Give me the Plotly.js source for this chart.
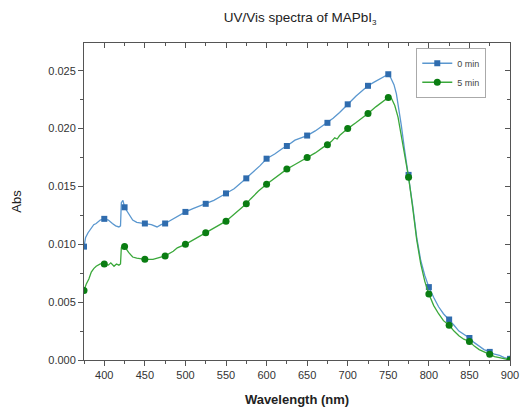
<!DOCTYPE html>
<html>
<head>
<meta charset="utf-8">
<script src="https://cdn.plot.ly/plotly-3.0.1.min.js"></script>
<style>html,body{margin:0;padding:0;background:#fff;}#chart{width:522px;height:407px;}</style>
</head>
<body>
<div id="chart"></div>
<script>
// Wavelength (nm) and absorbance
var wl0 = [375,377,380,383,387,390,395,400,405,410,414,418,420,421,423,425,430,435,440,450,458,465,470,475,485,490,500,510,520,525,535,545,550,560,570,575,585,592,600,610,620,625,635,645,650,660,670,675,682,690,700,710,720,725,732,740,745,750,753,757,760,763,766,770,775,780,785,790,795,800,806,812,818,825,831,837,843,850,856,862,868,875,881,887,893,900];
var abs0 = [0.0098,0.0106,0.0110,0.0113,0.0117,0.0118,0.0121,0.0122,0.0121,0.0118,0.0116,0.0115,0.0116,0.0136,0.0138,0.0132,0.0126,0.0121,0.0119,0.0118,0.0117,0.0115,0.0117,0.0118,0.0122,0.0124,0.0128,0.0131,0.0134,0.0135,0.0138,0.0142,0.0144,0.0148,0.0154,0.0157,0.0163,0.0168,0.0174,0.0178,0.0183,0.0185,0.0190,0.0193,0.0194,0.0198,0.0203,0.0205,0.0209,0.0214,0.0221,0.0228,0.0234,0.0237,0.0240,0.0243,0.0245,0.0247,0.0244,0.0238,0.0230,0.0218,0.0203,0.0182,0.0160,0.0134,0.0106,0.0086,0.0073,0.0063,0.0054,0.0046,0.0040,0.0035,0.0030,0.0025,0.0022,0.0019,0.0015,0.0012,0.0009,0.0007,0.0005,0.0004,0.0002,0.0001];

var wl5 = [375,378,381,384,387,390,395,400,405,408,412,415,418,420,421,425,430,435,440,450,460,470,475,485,490,500,510,520,525,535,545,550,560,570,575,580,590,600,610,620,625,635,645,650,660,670,675,680,684,687,690,695,700,710,720,725,735,742,750,754,758,762,766,770,775,780,785,790,795,800,806,812,818,825,831,837,843,850,856,862,868,875,881,887,893,900];
var abs5 = [0.0060,0.0066,0.0070,0.0076,0.0079,0.0081,0.0083,0.0083,0.0082,0.0084,0.0081,0.0083,0.0082,0.0083,0.0097,0.0098,0.0093,0.0089,0.0088,0.0087,0.0087,0.0089,0.0090,0.0094,0.0097,0.0100,0.0104,0.0108,0.0110,0.0114,0.0118,0.0120,0.0126,0.0132,0.0135,0.0139,0.0146,0.0152,0.0157,0.0162,0.0165,0.0169,0.0173,0.0175,0.0179,0.0184,0.0186,0.0189,0.0192,0.0191,0.0194,0.0197,0.0200,0.0205,0.0210,0.0213,0.0219,0.0223,0.0227,0.0226,0.0220,0.0210,0.0194,0.0177,0.0158,0.0132,0.0104,0.0083,0.0068,0.0057,0.0047,0.0040,0.0034,0.0030,0.0025,0.0021,0.0018,0.0016,0.0012,0.0009,0.0007,0.0005,0.0003,0.0002,0.0001,0.0000];

var seriesNames = ['0 min', '5 min'];
var markerStep = 25;

function pick(xs, ys) {
  var px = [], py = [];
  for (var i = 0; i < xs.length; i++) {
    if (xs[i] % markerStep === 0) { px.push(xs[i]); py.push(ys[i]); }
  }
  return {x: px, y: py};
}

var blueLine = '#5a97cf', blueMark = '#2f6cae';
var greenLine = '#3aa83a', greenMark = '#0a7d12';

var m0 = pick(wl0, abs0), m5 = pick(wl5, abs5);

var traces = [
  {x: wl0, y: abs0, mode: 'lines', line: {color: blueLine, width: 1.3}, showlegend: false, hoverinfo: 'skip'},
  {x: m0.x, y: m0.y, mode: 'markers', marker: {symbol: 'square', size: 6, color: blueMark}, showlegend: false},
  {x: wl5, y: abs5, mode: 'lines', line: {color: greenLine, width: 1.3}, showlegend: false, hoverinfo: 'skip'},
  {x: m5.x, y: m5.y, mode: 'markers', marker: {symbol: 'circle', size: 7, color: greenMark}, showlegend: false},
  {x: [null], y: [null], name: seriesNames[0], mode: 'lines+markers', line: {color: blueLine, width: 1.3}, marker: {symbol: 'square', size: 6, color: blueMark}},
  {x: [null], y: [null], name: seriesNames[1], mode: 'lines+markers', line: {color: greenLine, width: 1.3}, marker: {symbol: 'circle', size: 7, color: greenMark}}
];

var axisCol = '#555';
var layout = {
  width: 522, height: 407,
  margin: {l: 84, r: 12, t: 43, b: 47},
  paper_bgcolor: '#fff', plot_bgcolor: '#fff',
  font: {family: 'Liberation Sans, Arial, sans-serif', color: '#333'},
  title: {text: 'UV/Vis spectra of MAPbI<sub><span style="font-size:8px">3</span></sub>', font: {size: 13.5, color: '#222'}, xref: 'container', x: 0.575, xanchor: 'center', yref: 'container', y: 0.958, yanchor: 'middle'},
  showlegend: true,
  legend: {x: 0.78, y: 0.985, xanchor: 'left', yanchor: 'top', bgcolor: '#fff', bordercolor: '#aaa', borderwidth: 1, font: {size: 9, color: '#444'}, itemwidth: 30, tracegroupgap: 0},
  xaxis: {
    range: [375, 900], tickvals: [400,450,500,550,600,650,700,750,800,850,900],
    ticks: 'outside', ticklen: 5, tickwidth: 1, tickcolor: axisCol,
    minor: {tickvals: [375,425,475,525,575,625,675,725,775,825,875], ticks: 'outside', ticklen: 3, tickcolor: axisCol},
    showline: true, linecolor: axisCol, linewidth: 1, showgrid: false, zeroline: false,
    tickfont: {size: 11, color: '#333'},
    title: {text: '<b>Wavelength (nm)</b>', font: {size: 13, color: '#222'}, standoff: 14}
  },
  xaxis2: {
    overlaying: 'x', side: 'top', matches: 'x', range: [375, 900],
    tickvals: [400,450,500,550,600,650,700,750,800,850,900], showticklabels: false,
    ticks: 'inside', ticklen: 5, tickcolor: axisCol,
    minor: {tickvals: [375,425,475,525,575,625,675,725,775,825,875], ticks: 'inside', ticklen: 3, tickcolor: axisCol},
    showline: true, linecolor: axisCol, linewidth: 1, showgrid: false, zeroline: false
  },
  yaxis: {
    range: [0, 0.0274], tickvals: [0, 0.005, 0.010, 0.015, 0.020, 0.025], tickformat: '.3f',
    ticks: 'outside', ticklen: 5, tickwidth: 1, tickcolor: axisCol,
    minor: {tickvals: [0.0025, 0.0075, 0.0125, 0.0175, 0.0225], ticks: 'outside', ticklen: 3, tickcolor: axisCol},
    showline: true, linecolor: axisCol, linewidth: 1, showgrid: false, zeroline: false,
    tickfont: {size: 11, color: '#333'},
    title: {text: 'Abs', font: {size: 13, color: '#222'}, standoff: 23}
  },
  yaxis2: {
    overlaying: 'y', side: 'right', matches: 'y', range: [0, 0.0274],
    tickvals: [0, 0.005, 0.010, 0.015, 0.020, 0.025], showticklabels: false,
    ticks: 'inside', ticklen: 5, tickcolor: axisCol,
    minor: {tickvals: [0.0025, 0.0075, 0.0125, 0.0175, 0.0225], ticks: 'inside', ticklen: 3, tickcolor: axisCol},
    showline: true, linecolor: axisCol, linewidth: 1, showgrid: false, zeroline: false
  }
};

// dummy trace so the mirrored top/right axes render
traces.push({x: [null], y: [null], xaxis: 'x2', yaxis: 'y2', showlegend: false, hoverinfo: 'skip'});

Plotly.newPlot('chart', traces, layout, {displayModeBar: false, staticPlot: true});
</script>
</body>
</html>
